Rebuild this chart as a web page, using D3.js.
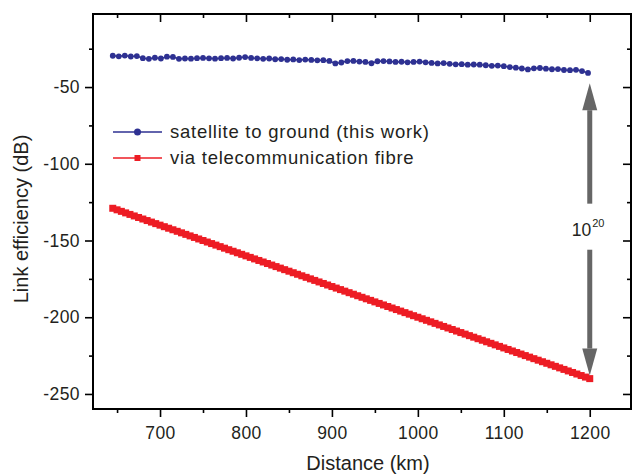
<!DOCTYPE html>
<html>
<head>
<meta charset="utf-8">
<script src="https://cdn.jsdelivr.net/npm/d3@7"></script>
<style>
	body { margin: 0; background: #fff; }
	svg { display: block; font-family: "Liberation Sans", Arial, sans-serif; }
	.tick text { fill: #231f20; }
</style>
</head>
<body>
<div id="chart"></div>
<script>
// satellite link, one point every 7 km
var satDist = [645, 652, 659, 666, 673, 680, 687, 694, 701, 708, 715, 722, 729, 736, 743, 750, 757, 764, 771, 778,
	785, 792, 799, 806, 813, 820, 827, 834, 841, 848, 855, 862, 869, 876, 883, 890, 897, 904, 911, 918,
	925, 932, 939, 946, 953, 960, 967, 974, 981, 988, 995, 1002, 1009, 1016, 1023, 1030, 1037, 1044, 1051, 1058,
	1065, 1072, 1079, 1086, 1093, 1100, 1107, 1114, 1121, 1128, 1135, 1142, 1149, 1156, 1163, 1170, 1177, 1184, 1191, 1198];
var satDb = [-29.6, -30.0, -29.5, -30.1, -29.8, -31.2, -31.6, -30.9, -31.4, -30.2, -30.4, -31.6, -31.4, -31.5, -31.2, -31.0, -31.3, -31.5, -31.2, -31.0,
	-31.4, -30.9, -30.5, -31.0, -31.3, -31.6, -31.4, -31.9, -31.8, -32.2, -32.0, -32.4, -32.1, -32.3, -32.6, -32.5, -33.0, -34.6, -34.0, -33.1,
	-33.0, -33.4, -33.6, -34.5, -33.2, -33.1, -33.3, -33.6, -33.5, -33.9, -33.6, -33.4, -33.9, -34.3, -34.6, -34.4, -34.9, -35.2, -35.1, -35.4,
	-35.3, -35.4, -35.8, -36.2, -36.0, -36.4, -37.0, -37.4, -37.9, -38.5, -37.8, -37.6, -38.0, -38.4, -38.3, -38.9, -39.0, -38.8, -39.6, -40.8];

// telecom fibre, one point every 5 km
var fibreDist = [645, 650, 655, 660, 665, 670, 675, 680, 685, 690, 695, 700, 705, 710, 715, 720, 725, 730, 735, 740,
	745, 750, 755, 760, 765, 770, 775, 780, 785, 790, 795, 800, 805, 810, 815, 820, 825, 830, 835, 840,
	845, 850, 855, 860, 865, 870, 875, 880, 885, 890, 895, 900, 905, 910, 915, 920, 925, 930, 935, 940,
	945, 950, 955, 960, 965, 970, 975, 980, 985, 990, 995, 1000, 1005, 1010, 1015, 1020, 1025, 1030, 1035, 1040,
	1045, 1050, 1055, 1060, 1065, 1070, 1075, 1080, 1085, 1090, 1095, 1100, 1105, 1110, 1115, 1120, 1125, 1130, 1135, 1140,
	1145, 1150, 1155, 1160, 1165, 1170, 1175, 1180, 1185, 1190, 1195, 1200];
var fibreDb = [-129, -130, -131, -132, -133, -134, -135, -136, -137, -138, -139, -140, -141, -142, -143, -144, -145, -146, -147, -148,
	-149, -150, -151, -152, -153, -154, -155, -156, -157, -158, -159, -160, -161, -162, -163, -164, -165, -166, -167, -168,
	-169, -170, -171, -172, -173, -174, -175, -176, -177, -178, -179, -180, -181, -182, -183, -184, -185, -186, -187, -188,
	-189, -190, -191, -192, -193, -194, -195, -196, -197, -198, -199, -200, -201, -202, -203, -204, -205, -206, -207, -208,
	-209, -210, -211, -212, -213, -214, -215, -216, -217, -218, -219, -220, -221, -222, -223, -224, -225, -226, -227, -228,
	-229, -230, -231, -232, -233, -234, -235, -236, -237, -238, -239, -240];

var xTicks = [700, 800, 900, 1000, 1100, 1200];
var xMinor = [650, 750, 850, 950, 1050, 1150];
var yTicks = [-50, -100, -150, -200, -250];
var yMinor = [-25, -75, -125, -175, -225];

var seriesNames = ["satellite to ground (this work)", "via telecommunication fibre"];

// the 10^20 gap arrow, in data units
var arrowAt = 1200;
var arrowTop = -47.5, arrowBottom = -238, gapTop = -126, gapBottom = -156;

var blue = "#2e3192", red = "#ed1c24", grey = "#666666";

var width = 632, height = 474;
var margin = {top: 14, right: 1, bottom: 65, left: 93};
var w = width - margin.left - margin.right;
var h = height - margin.top - margin.bottom;

var x = d3.scaleLinear().domain([622, 1248]).range([0, w]);
var y = d3.scaleLinear().domain([-259.8, -2.4]).range([h, 0]);

// plain hyphen for the minus sign, like the original
var fmt = function (d) { return String(d); };

var svg = d3.select("#chart").append("svg")
	.attr("width", width)
	.attr("height", height);

var g = svg.append("g")
	.attr("transform", "translate(" + margin.left + "," + margin.top + ")");

function styleAxis(sel) {
	sel.select(".domain").remove();
	sel.selectAll(".tick line").attr("stroke", "#000").attr("stroke-width", 1.6);
	sel.selectAll(".tick text")
		.attr("font-size", "17.5px")
		.attr("letter-spacing", "0.4px");
}

// bottom axis, outward ticks
g.append("g")
	.attr("transform", "translate(0," + h + ")")
	.call(d3.axisBottom(x).tickValues(xTicks).tickSize(8).tickPadding(6).tickFormat(fmt))
	.call(styleAxis)
	.selectAll(".tick text").attr("dy", "0.9em");
g.append("g")
	.attr("transform", "translate(0," + h + ")")
	.call(d3.axisBottom(x).tickValues(xMinor).tickSize(4).tickFormat(""))
	.call(styleAxis);

// left axis, outward ticks
g.append("g")
	.call(d3.axisLeft(y).tickValues(yTicks).tickSize(8).tickPadding(5).tickFormat(fmt))
	.call(styleAxis);
g.append("g")
	.call(d3.axisLeft(y).tickValues(yMinor).tickSize(4).tickFormat(""))
	.call(styleAxis);

// top and right axes, inward ticks
g.append("g")
	.call(d3.axisTop(x).tickValues(xTicks).tickSize(-8).tickFormat(""))
	.call(styleAxis);
g.append("g")
	.call(d3.axisTop(x).tickValues(xMinor).tickSize(-4).tickFormat(""))
	.call(styleAxis);
g.append("g")
	.attr("transform", "translate(" + w + ",0)")
	.call(d3.axisRight(y).tickValues(yTicks).tickSize(-8).tickFormat(""))
	.call(styleAxis);
g.append("g")
	.attr("transform", "translate(" + w + ",0)")
	.call(d3.axisRight(y).tickValues(yMinor).tickSize(-4).tickFormat(""))
	.call(styleAxis);

// frame
g.append("rect")
	.attr("width", w)
	.attr("height", h)
	.attr("fill", "none")
	.attr("stroke", "#000")
	.attr("stroke-width", 2);

var sat = satDist.map(function (d, i) { return {x: d, y: satDb[i]}; });
var fibre = fibreDist.map(function (d, i) { return {x: d, y: fibreDb[i]}; });

var line = d3.line()
	.x(function (d) { return x(d.x); })
	.y(function (d) { return y(d.y); });

// fibre series
g.append("path")
	.datum(fibre)
	.attr("fill", "none")
	.attr("stroke", red)
	.attr("stroke-width", 2)
	.attr("d", line);
g.append("g").selectAll("rect")
	.data(fibre)
	.enter().append("rect")
	.attr("x", function (d) { return x(d.x) - 3.5; })
	.attr("y", function (d) { return y(d.y) - 3.5; })
	.attr("width", 7)
	.attr("height", 7)
	.attr("fill", red);

// satellite series
g.append("path")
	.datum(sat)
	.attr("fill", "none")
	.attr("stroke", blue)
	.attr("stroke-width", 1.5)
	.attr("d", line);
g.append("g").selectAll("circle")
	.data(sat)
	.enter().append("circle")
	.attr("cx", function (d) { return x(d.x); })
	.attr("cy", function (d) { return y(d.y); })
	.attr("r", 2.9)
	.attr("fill", blue);

// gap arrows
var ax = x(arrowAt);
function arrow(from, to) {
	var dir = y(to) > y(from) ? 1 : -1;
	var base = y(to) - dir * 27;
	g.append("line")
		.attr("x1", ax).attr("x2", ax)
		.attr("y1", y(from)).attr("y2", base)
		.attr("stroke", grey)
		.attr("stroke-width", 5);
	g.append("path")
		.attr("d", "M" + ax + "," + y(to) + "L" + (ax - 7.5) + "," + base + "L" + (ax + 7.5) + "," + base + "Z")
		.attr("fill", grey);
}
arrow(gapTop, arrowTop);
arrow(gapBottom, arrowBottom);

var lbl = g.append("text")
	.attr("x", ax - 18)
	.attr("y", y(-147))
	.attr("fill", "#231f20")
	.attr("font-size", "17.5px");
lbl.append("tspan").text("10");
lbl.append("tspan")
	.attr("dy", "-0.8em")
	.attr("dx", "1px")
	.attr("font-size", "11px")
	.text("20");

// legend
var legend = g.append("g").attr("transform", "translate(20,118)");
var colors = [blue, red];
seriesNames.forEach(function (name, i) {
	var row = legend.append("g").attr("transform", "translate(0," + (i * 26) + ")");
	row.append("line")
		.attr("x1", 0).attr("x2", 49)
		.attr("stroke", colors[i])
		.attr("stroke-width", 1.6);
	if (i === 0) {
		row.append("circle").attr("cx", 24.5).attr("r", 3.5).attr("fill", colors[i]);
	} else {
		row.append("rect").attr("x", 21.5).attr("y", -3).attr("width", 6).attr("height", 6).attr("fill", colors[i]);
	}
	row.append("text")
		.attr("x", 57)
		.attr("dy", "0.35em")
		.attr("fill", "#231f20")
		.attr("font-size", "18.5px")
		.attr("letter-spacing", "0.75px")
		.text(name);
});

// axis titles
svg.append("text")
	.attr("x", margin.left + w / 2 + 6)
	.attr("y", 470)
	.attr("text-anchor", "middle")
	.attr("fill", "#231f20")
	.attr("font-size", "20px")
	.text("Distance (km)");

svg.append("text")
	.attr("transform", "translate(28,219) rotate(-90)")
	.attr("text-anchor", "middle")
	.attr("fill", "#231f20")
	.attr("font-size", "20px")
	.text("Link efficiency (dB)");
</script>
</body>
</html>
